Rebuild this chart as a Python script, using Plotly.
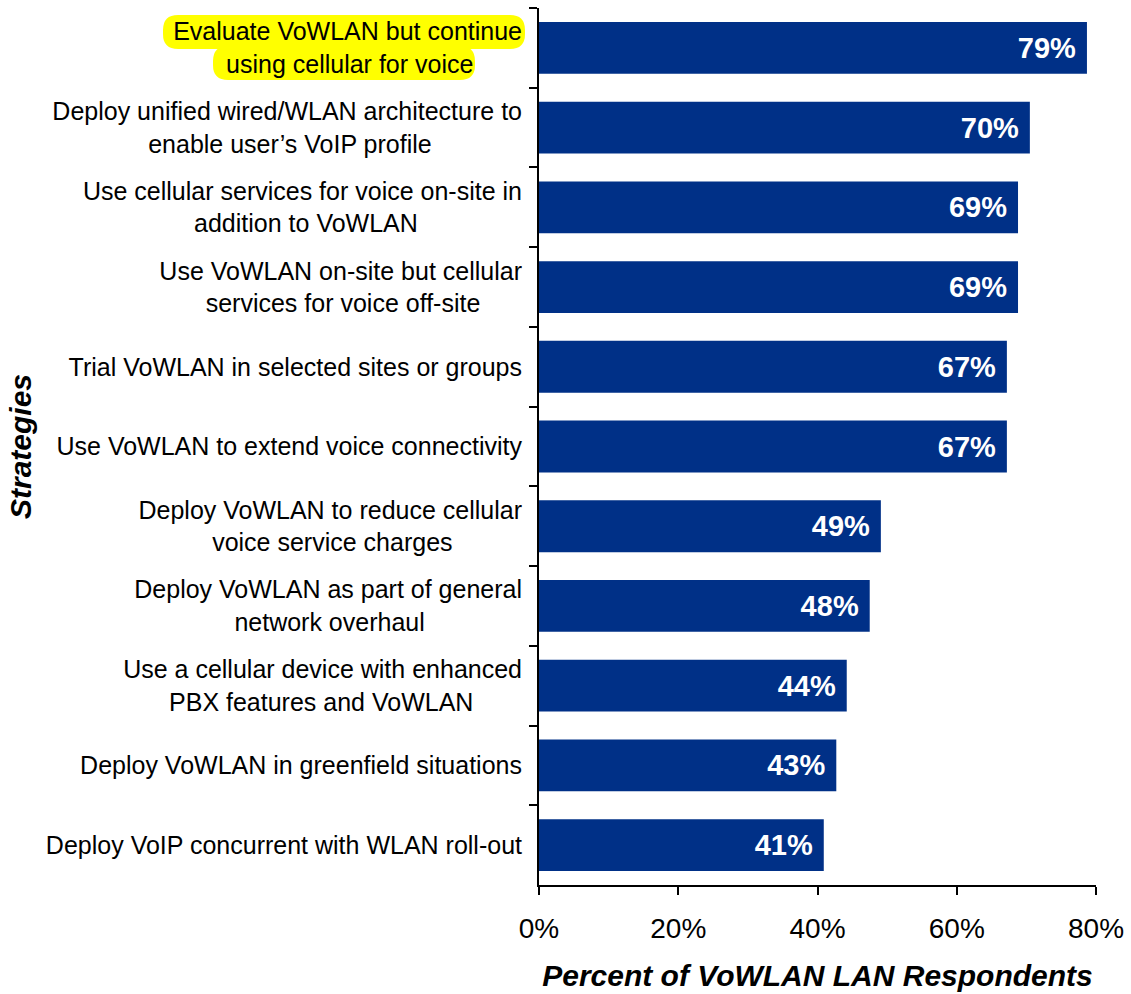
import plotly.graph_objects as go

categories = [
    ["Evaluate VoWLAN but continue", "using cellular for voice"],
    ["Deploy unified wired/WLAN architecture to", "enable user’s VoIP profile"],
    ["Use cellular services for voice on-site in", "addition to VoWLAN"],
    ["Use VoWLAN on-site but cellular", "services for voice off-site"],
    ["Trial VoWLAN in selected sites or groups"],
    ["Use VoWLAN to extend voice connectivity"],
    ["Deploy VoWLAN to reduce cellular", "voice service charges"],
    ["Deploy VoWLAN as part of general", "network overhaul"],
    ["Use a cellular device with enhanced", "PBX features and VoWLAN"],
    ["Deploy VoWLAN in greenfield situations"],
    ["Deploy VoIP concurrent with WLAN roll-out"],
]
values = [78.7, 70.5, 68.8, 68.8, 67.2, 67.2, 49.1, 47.5, 44.2, 42.7, 40.9]
labels = ["79%", "70%", "69%", "69%", "67%", "67%", "49%", "48%", "44%", "43%", "41%"]
x_ticks = [0, 20, 40, 60, 80]
x_tick_labels = ["0%", "20%", "40%", "60%", "80%"]

W, H = 1131, 994
ML, MR, MT, MB = 539, 35, 8, 109
PW, PH = W - ML - MR, H - MT - MB

FONT = "Liberation Sans, Arial, sans-serif"
BAR = "rgb(0,48,135)"
NBSP = "\u00a0"

# Arial advance widths (1/1000 em) used to centre the two lines of each label
_W = dict(zip("abcdefghijklmnopqrstuvwxyz",
              [556, 556, 500, 556, 556, 278, 556, 556, 222, 222, 500, 222, 833,
               556, 556, 556, 556, 333, 500, 278, 556, 500, 722, 500, 500, 500]))
_W.update(zip("ABCDEFGHIJKLMNOPQRSTUVWXYZ",
              [667, 667, 722, 722, 667, 611, 778, 722, 278, 500, 667, 556, 833,
               722, 778, 667, 778, 722, 667, 611, 722, 667, 944, 667, 667, 611]))
_W.update({" ": 278, "/": 278, "’": 222, "-": 333, "%": 889})


def text_w(s):
    return sum(_W.get(c, 556) for c in s)


def centred(lines):
    if len(lines) == 1:
        return lines[0]
    widths = [text_w(l) for l in lines]
    wmax = max(widths)
    out = []
    for l, w in zip(lines, widths):
        n = int(round((wmax - w) / 2 / 278))
        out.append(l + NBSP * n)
    return "<br>".join(out)


cat_text = [centred(c) for c in categories]


def px(x):
    return (x - ML) / PW


def py(y):
    return (H - MB - y) / PH


def pill(x0, y0, x1, y1, r=15):
    pts = [
        f"M{px(x0 + r)},{py(y0)}",
        f"L{px(x1 - r)},{py(y0)}",
        f"Q{px(x1)},{py(y0)} {px(x1)},{py(y0 + r)}",
        f"L{px(x1)},{py(y1 - r)}",
        f"Q{px(x1)},{py(y1)} {px(x1 - r)},{py(y1)}",
        f"L{px(x0 + r)},{py(y1)}",
        f"Q{px(x0)},{py(y1)} {px(x0)},{py(y1 - r)}",
        f"L{px(x0)},{py(y0 + r)}",
        f"Q{px(x0)},{py(y0)} {px(x0 + r)},{py(y0)}",
        "Z",
    ]
    return " ".join(pts)


fig = go.Figure(
    go.Bar(
        x=values,
        y=cat_text,
        orientation="h",
        marker=dict(color=BAR, line=dict(width=0)),
        width=0.65,
        text=[l + NBSP for l in labels],
        textposition="inside",
        insidetextanchor="end",
        textfont=dict(family=FONT, size=29, color="white", weight="bold"),
        cliponaxis=False,
        hoverinfo="skip",
    )
)

fig.update_layout(
    width=W,
    height=H,
    margin=dict(l=ML, r=MR, t=MT, b=MB, pad=0),
    paper_bgcolor="white",
    plot_bgcolor="white",
    showlegend=False,
    font=dict(family=FONT, color="black"),
    xaxis=dict(
        range=[0, 80],
        tickvals=x_ticks,
        ticktext=x_tick_labels,
        ticks="outside",
        ticklen=8,
        tickwidth=2,
        tickcolor="black",
        showline=True,
        linewidth=2,
        linecolor="black",
        showgrid=False,
        zeroline=False,
        tickfont=dict(size=28, family=FONT),
        ticklabelstandoff=9,
        automargin=False,
        title=dict(
            text="<b><i>Percent of VoWLAN LAN Respondents</i></b>",
            font=dict(size=30, family=FONT),
            standoff=22,
        ),
    ),
    yaxis=dict(
        autorange="reversed",
        tickson="boundaries",
        ticks="outside",
        ticklen=8,
        tickwidth=2,
        tickcolor="black",
        showline=True,
        linewidth=2,
        linecolor="black",
        showgrid=False,
        zeroline=False,
        tickfont=dict(size=25, family=FONT),
        ticklabelstandoff=10,
        automargin=False,
        title=dict(
            text="<b><i>Strategies</i></b>",
            font=dict(size=30, family=FONT),
            standoff=5,
        ),
    ),
    shapes=[
        dict(type="path", xref="paper", yref="paper", layer="below",
             path=pill(163, 15, 525, 49), fillcolor="#ffff00", line=dict(width=0)),
        dict(type="path", xref="paper", yref="paper", layer="below",
             path=pill(213, 46, 475, 80), fillcolor="#ffff00", line=dict(width=0)),
    ],
)

fig.write_html("out.html")
